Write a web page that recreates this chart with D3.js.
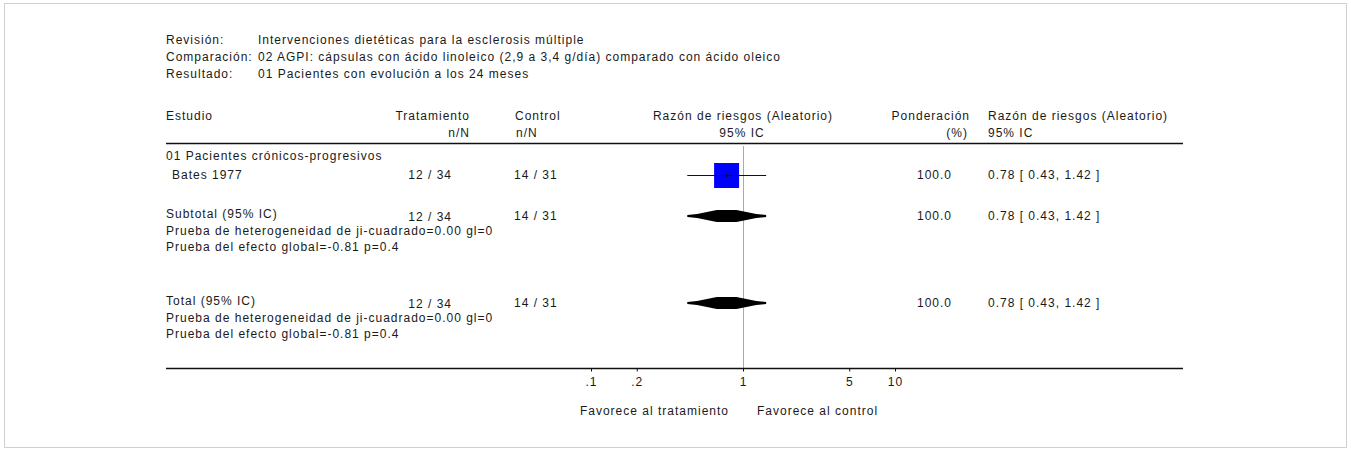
<!DOCTYPE html>
<html><head><meta charset="utf-8">
<script src="https://cdn.jsdelivr.net/npm/d3@7"></script>
<style>
html,body{margin:0;padding:0;background:#fff;}
svg text{font-family:"Liberation Sans",Arial,sans-serif;font-size:12px;fill:#1a1a1a;letter-spacing:1px;}
</style></head>
<body><svg id="c" width="1351" height="451"></svg>
<script>
// ---- data ----
const headerLabels = ["Revisión:", "Comparación:", "Resultado:"];
const headerValues = ["Intervenciones dietéticas para la esclerosis múltiple",
  "02 AGPI: cápsulas con ácido linoleico (2,9 a 3,4 g/día) comparado con ácido oleico",
  "01 Pacientes con evolución a los 24 meses"];
const subgroups = ["01 Pacientes crónicos-progresivos"];
const studies = ["Bates 1977"];
const treatment = ["12 / 34"];
const control = ["14 / 31"];
const rr = [0.78];
const rrLow = [0.43];
const rrHigh = [1.42];
const weights = [100.0];
const pooledLabels = ["Subtotal (95% IC)", "Total (95% IC)"];
const pooledTreatment = ["12 / 34", "12 / 34"];
const pooledControl = ["14 / 31", "14 / 31"];
const pooledRR = [0.78, 0.78];
const pooledLow = [0.43, 0.43];
const pooledHigh = [1.42, 1.42];
const pooledWeights = [100.0, 100.0];
const heterogeneity = ["Prueba de heterogeneidad de ji-cuadrado=0.00 gl=0", "Prueba de heterogeneidad de ji-cuadrado=0.00 gl=0"];
const overallEffect = ["Prueba del efecto global=-0.81 p=0.4", "Prueba del efecto global=-0.81 p=0.4"];
const tickValues = [0.1, 0.2, 1, 5, 10];
const tickLabels = [".1", ".2", "1", "5", "10"];
const favourLabels = ["Favorece al tratamiento", "Favorece al control"];

// ---- drawing ----
const svg = d3.select("#c");
svg.append("rect").attr("x", 4.5).attr("y", 3.5).attr("width", 1342).attr("height", 444)
  .attr("fill", "none").attr("stroke", "#d0d0d0");

const x = d3.scaleLog().domain([0.1, 10]).range([591, 895]);
const L = 166, R = 1183;
const fmtCI = (r, l, h) => `${r.toFixed(2)} [ ${l.toFixed(2)}, ${h.toFixed(2)} ]`;

function txt(s, xx, yy, anchor) {
  return svg.append("text").attr("x", xx).attr("y", yy).attr("text-anchor", anchor || "start").text(s);
}

// header block
const hy = [44, 61, 78];
headerLabels.forEach((s, i) => txt(s, L, hy[i]));
headerValues.forEach((s, i) => txt(s, 258, hy[i]));

// column headers
txt("Estudio", L, 120);
txt("Tratamiento", 470, 120, "end"); txt("n/N", 470, 137, "end");
txt("Control", 515, 120); txt("n/N", 516, 137);
txt("Razón de riesgos (Aleatorio)", x(1), 120, "middle"); txt("95% IC", x(1) - 1, 137, "middle");
txt("Ponderación", 970, 120, "end"); txt("(%)", 968, 137, "end");
txt("Razón de riesgos (Aleatorio)", 988, 120); txt("95% IC", 988, 137);

svg.append("line").attr("x1", L).attr("x2", R).attr("y1", 143.5).attr("y2", 143.5).attr("stroke", "#111").attr("stroke-width", 1.3);

// null line
svg.append("line").attr("x1", x(1) + 0.5).attr("x2", x(1) + 0.5).attr("y1", 146).attr("y2", 368)
  .attr("stroke", "#aaa").attr("stroke-width", 1);

// subgroup + study rows
txt(subgroups[0], L, 160);
const studyY = [175];
studies.forEach((s, i) => {
  const y = studyY[i];
  txt(s, 172, y + 4);
  txt(treatment[i], 452, y + 4, "end");
  txt(control[i], 514, y + 4);
  txt(weights[i].toFixed(1), 952, y + 4, "end");
  txt(fmtCI(rr[i], rrLow[i], rrHigh[i]), 988, y + 4);
  const sz = 25;
  svg.append("rect").attr("x", x(rr[i]) - sz / 2).attr("y", y - sz / 2 + 0.5).attr("width", sz).attr("height", sz)
    .attr("fill", "#0000ff");
  svg.append("line").attr("x1", x(rrLow[i])).attr("x2", x(rrHigh[i])).attr("y1", y + 0.5).attr("y2", y + 0.5)
    .attr("stroke", "#111").attr("stroke-width", 1.2);
  svg.append("rect").attr("x", x(rr[i]) - 1.5).attr("y", y - 1).attr("width", 3).attr("height", 3).attr("fill", "#111");
});

// pooled rows
const pooledY = [216, 303];
pooledLabels.forEach((s, i) => {
  const y = pooledY[i];
  txt(s, L, y + 2);
  txt(pooledTreatment[i], 452, y + 5, "end");
  txt(pooledControl[i], 514, y + 4);
  txt(pooledWeights[i].toFixed(1), 952, y + 4, "end");
  txt(fmtCI(pooledRR[i], pooledLow[i], pooledHigh[i]), 988, y + 4);
  txt(heterogeneity[i], L, y + 19);
  txt(overallEffect[i], L, y + 35);
  const xl = x(pooledLow[i]), xh = x(pooledHigh[i]), xm = x(pooledRR[i]);
  // tapered diamond (thin tails, thick centre)
  const half = [[0, 1], [0.25, 2], [0.5, 4], [0.75, 6], [1, 6]];
  const ptsTop = [];
  half.forEach(([f, h]) => { ptsTop.push([xl + (xm - xl) * f, y - h]); });
  half.slice().reverse().forEach(([f, h]) => { ptsTop.push([xh - (xh - xm) * f, y - h]); });
  const pts = ptsTop.concat(ptsTop.slice().reverse().map(([px, py]) => [px, 2 * y - py]));
  svg.append("path").attr("d", d3.line()(pts) + "Z").attr("fill", "#000");
});

// axis
svg.append("line").attr("x1", L).attr("x2", R).attr("y1", 368.5).attr("y2", 368.5).attr("stroke", "#111").attr("stroke-width", 1.3);
const axis = d3.axisBottom(x).tickValues(tickValues).tickSize(3).tickPadding(6)
  .tickFormat((d, i) => tickLabels[i]);
const ag = svg.append("g").attr("transform", "translate(0,368.5)").call(axis);
ag.select(".domain").remove();
ag.selectAll(".tick line").attr("stroke", "#111");
ag.selectAll(".tick text").style("font-family", '"Liberation Sans",Arial,sans-serif').style("font-size", "12px").attr("fill", "#1a1a1a");

txt(favourLabels[0], x(1) - 14, 415, "end");
txt(favourLabels[1], x(1) + 14, 415);
</script></body></html>
